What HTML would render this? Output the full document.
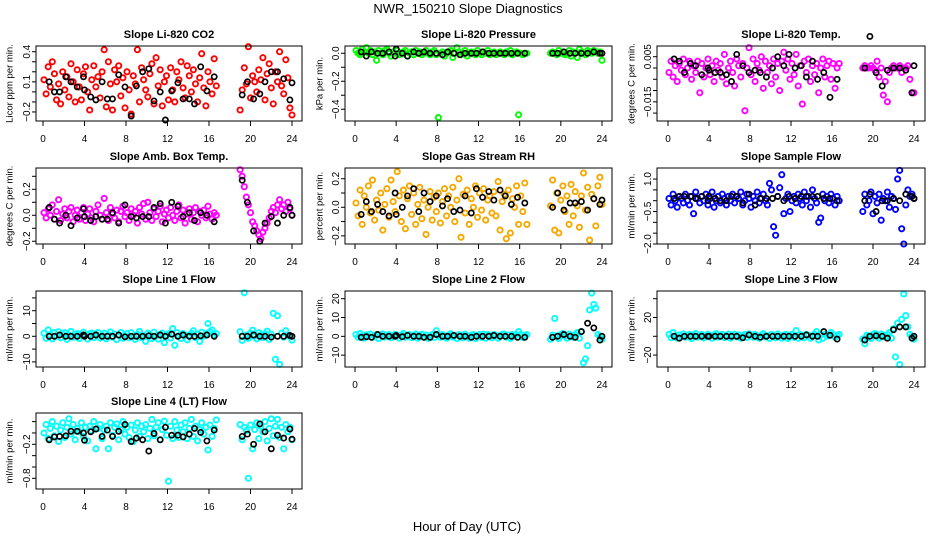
<!DOCTYPE html>
<html><head><meta charset="utf-8">
<style>
html,body{margin:0;padding:0;background:#fff;}
svg{display:block;font-family:"Liberation Sans",Arial,sans-serif;}
.tk{font-size:10px;fill:#000;}
.pt{font-size:11px;font-weight:bold;fill:#000;}
.yl{font-size:9.5px;fill:#000;}
</style></head>
<body>
<svg id="chart" width="936" height="540" viewBox="0 0 936 540">
<text x="468" y="13" text-anchor="middle" font-size="13">NWR_150210  Slope Diagnostics</text>
<text x="467" y="531" text-anchor="middle" font-size="13">Hour of Day (UTC)</text>
</svg>
<script>
// shared hour arrays
const hours = [0.1,0.3,0.5,0.7,0.9,1.1,1.3,1.5,1.7,1.9,2.1,2.3,2.5,2.7,2.9,3.1,3.3,3.5,3.7,3.9,4.1,4.3,4.5,4.7,4.9,5.1,5.3,5.5,5.7,5.9,6.1,6.3,6.5,6.7,6.9,7.1,7.3,7.5,7.7,7.9,8.1,8.3,8.5,8.7,8.9,9.1,9.3,9.5,9.7,9.9,10.1,10.3,10.5,10.7,10.9,11.1,11.3,11.5,11.7,11.9,12.1,12.3,12.5,12.7,12.9,13.1,13.3,13.5,13.7,13.9,14.1,14.3,14.5,14.7,14.9,15.1,15.3,15.5,15.7,15.9,16.1,16.3,16.5,16.7,19.0,19.2,19.4,19.6,19.8,20.0,20.2,20.4,20.6,20.8,21.0,21.2,21.4,21.6,21.8,22.0,22.2,22.4,22.6,22.8,23.0,23.2,23.4,23.6,23.8,24.0];
const blackHours = [0.6,1.1,1.6,2.2,2.7,3.3,3.9,4.0,4.6,5.1,5.7,6.2,6.7,7.3,7.9,8.5,9.0,9.6,10.2,10.7,11.3,11.8,12.4,13.0,13.5,14.1,14.6,15.2,15.8,16.5,19.2,19.7,20.3,20.9,21.4,22.0,22.6,23.2,23.8,24.0];
const xTicks = [0,4,8,12,16,20,24];

// CO2
const co2Vals = [0.12,-0.02,0.25,0.05,0.30,0.18,-0.08,0.08,-0.12,0.20,0.02,0.15,-0.05,0.28,0.10,-0.10,0.22,0.05,-0.08,0.18,0.25,0.00,-0.18,0.12,0.26,0.05,0.15,-0.06,0.20,0.42,-0.15,0.30,0.08,-0.18,0.22,0.10,0.26,-0.04,0.14,-0.16,0.20,0.02,-0.22,0.16,0.08,0.42,-0.10,0.24,0.12,0.02,-0.05,0.18,0.28,-0.12,0.34,0.06,0.22,-0.14,0.10,0.16,-0.08,0.24,0.02,-0.10,0.20,0.12,0.30,0.04,-0.06,0.26,0.16,0.00,0.22,0.08,-0.10,0.14,0.38,0.04,-0.14,0.20,0.10,-0.02,0.33,0.06,-0.18,0.02,0.24,0.08,0.45,-0.06,0.16,0.10,0.00,0.22,0.12,0.34,-0.08,0.18,0.28,0.04,-0.12,0.20,0.10,0.40,0.06,-0.02,0.32,0.14,-0.16,-0.23];
const co2Black = [0.10,0.00,0.00,0.15,0.10,0.05,0.15,0.02,-0.05,-0.08,0.10,-0.07,-0.07,0.17,0.05,-0.24,0.06,0.20,0.23,-0.09,0.00,-0.28,0.01,0.09,-0.07,-0.07,-0.12,0.25,0.01,0.15,-0.03,0.10,-0.07,-0.02,0.10,0.20,0.20,0.13,-0.08,0.09];
// Pressure
const presVals = [0.02,0.00,-0.01,0.03,0.01,0.04,0.00,0.02,-0.01,0.01,-0.05,0.02,0.00,-0.01,0.02,0.03,0.00,-0.02,0.01,0.00,0.02,-0.01,0.00,0.01,0.02,-0.02,0.00,0.01,-0.01,0.02,0.00,0.01,-0.01,0.00,0.02,0.00,-0.01,0.01,0.02,-0.01,-0.46,0.00,0.01,-0.02,0.00,0.01,0.02,-0.03,0.00,0.04,0.01,-0.01,0.00,0.02,-0.02,0.00,0.01,0.00,-0.01,0.02,0.00,-0.01,0.01,0.00,0.02,-0.01,0.00,0.01,-0.01,0.00,0.01,0.00,-0.01,0.01,0.00,0.02,-0.01,0.00,0.01,-0.44,0.00,-0.01,0.00,0.00,0.00,0.01,0.00,-0.01,0.02,0.00,0.01,-0.01,0.00,0.02,-0.02,0.01,0.00,-0.03,0.03,0.01,0.00,-0.01,0.02,0.01,0.00,0.02,0.01,0.00,0.01,-0.05];
const presBlack = [0.01,-0.02,0.01,0.00,0.00,0.01,-0.02,0.03,0.00,-0.02,0.01,0.00,0.01,0.00,0.00,-0.01,0.01,0.00,-0.01,0.00,0.00,0.00,0.01,0.00,0.00,0.00,0.00,0.00,0.00,0.00,0.00,0.00,0.01,0.00,0.00,0.00,0.00,0.01,0.00,0.00];
// Li-820 temperature
const tempVals = [-0.002,0.003,-0.004,0.001,-0.006,0.002,-0.001,0.004,-0.003,0.000,0.003,-0.005,0.001,-0.002,0.003,-0.011,0.002,-0.004,0.000,0.004,-0.003,0.001,-0.006,0.003,-0.001,0.002,-0.004,0.006,-0.007,0.000,0.003,-0.002,-0.008,0.004,0.001,-0.004,0.002,-0.019,0.000,0.009,-0.003,0.004,-0.006,0.002,-0.001,0.005,-0.009,0.003,-0.002,0.001,-0.007,0.004,-0.004,0.002,-0.010,0.003,0.007,-0.001,0.004,-0.005,0.002,-0.003,0.006,-0.008,0.001,-0.016,0.003,-0.002,0.004,-0.006,0.001,-0.003,0.002,-0.011,0.000,0.004,-0.004,0.001,0.003,-0.005,0.002,-0.009,0.000,0.002,0.000,0.001,0.000,0.000,0.001,0.000,-0.001,0.003,-0.004,0.000,-0.012,-0.006,-0.015,-0.002,0.000,0.001,0.000,0.000,0.001,-0.002,0.000,0.000,0.001,-0.005,-0.011,-0.011];
const tempBlack = [0.004,0.003,-0.002,0.002,0.001,-0.003,0.000,-0.001,-0.002,-0.002,-0.003,-0.006,0.006,0.001,-0.002,-0.001,-0.002,-0.004,0.000,0.005,0.001,0.006,0.000,0.001,-0.004,0.003,-0.005,-0.002,-0.013,-0.005,0.000,0.014,-0.002,-0.008,-0.001,0.000,0.000,-0.001,-0.011,0.001];
// Amb box temperature
const ambVals = [0.02,-0.02,0.05,0.00,0.08,-0.03,0.03,0.12,-0.04,0.01,0.05,-0.02,0.03,0.06,-0.05,0.00,0.04,-0.03,0.02,0.06,-0.04,0.01,0.05,-0.02,-0.05,0.03,0.08,0.00,-0.03,0.13,0.02,-0.04,0.06,0.01,-0.02,0.04,-0.05,0.03,0.07,-0.01,0.02,-0.04,0.05,0.00,0.03,-0.06,0.06,0.01,0.09,-0.03,0.10,0.02,-0.04,0.05,-0.01,0.03,0.07,-0.05,0.01,0.04,-0.02,0.06,0.00,-0.04,0.03,0.08,-0.02,0.04,-0.06,0.01,0.05,-0.03,0.02,0.06,-0.05,0.03,0.00,0.04,-0.02,0.07,0.01,-0.03,0.02,0.00,0.35,0.30,0.22,0.14,0.08,0.02,-0.05,-0.08,-0.12,-0.15,-0.18,-0.13,-0.10,-0.06,-0.02,0.03,0.06,0.02,0.08,0.12,0.05,0.08,0.03,0.10,0.05,0.00];
const ambBlack = [0.06,-0.03,-0.06,0.00,-0.08,-0.02,0.05,-0.01,-0.04,-0.01,-0.03,-0.03,0.02,-0.06,0.08,-0.01,-0.02,-0.01,-0.01,0.06,0.09,-0.06,0.10,0.07,-0.01,0.02,-0.04,0.02,0.00,-0.05,0.27,0.10,-0.12,-0.20,-0.06,-0.01,-0.06,0.00,0.06,0.00];
// Gas stream RH
const rhVals = [0.03,-0.06,0.12,-0.12,0.08,0.00,0.15,-0.04,0.19,-0.09,0.05,-0.02,0.10,-0.16,0.02,0.13,-0.07,0.19,0.04,-0.03,0.25,0.08,-0.10,0.12,-0.15,0.06,0.15,-0.05,0.10,-0.12,0.02,0.14,-0.08,0.05,-0.19,0.00,0.11,-0.09,0.07,-0.03,0.10,-0.11,0.04,0.13,-0.06,0.08,0.00,0.14,-0.10,0.05,0.20,-0.21,0.09,-0.04,0.12,-0.12,0.06,0.00,0.15,-0.07,0.10,-0.02,0.13,-0.09,0.05,0.08,-0.04,0.11,-0.06,0.18,-0.16,0.04,0.09,-0.22,0.12,-0.18,0.06,0.00,0.15,-0.12,0.08,-0.03,0.17,-0.12,0.01,0.19,-0.16,0.10,-0.18,0.05,0.15,-0.03,0.08,-0.12,0.16,-0.06,0.11,0.01,-0.14,0.08,0.24,-0.02,0.14,-0.23,0.09,0.06,-0.13,0.15,0.21,0.02];
const rhBlack = [-0.05,0.04,-0.03,0.02,-0.03,-0.06,0.10,-0.05,0.00,0.08,0.13,-0.03,0.10,0.04,0.08,0.01,0.06,-0.03,-0.02,0.08,-0.04,0.13,0.07,0.11,0.05,0.12,0.08,0.02,0.07,0.03,0.00,0.10,-0.02,0.03,0.03,0.04,-0.02,0.06,0.02,0.05];
// Sample flow
const sampVals = [0.1,-0.2,0.3,0.0,-0.3,0.2,0.1,-0.1,0.3,0.0,-0.2,0.2,-0.6,0.4,0.1,-0.1,0.2,0.0,0.3,-0.2,0.1,0.4,-0.3,0.0,0.2,-0.1,0.3,0.1,-0.2,0.2,0.0,0.3,-0.1,0.2,0.1,0.4,-0.2,0.0,0.3,0.1,-0.3,0.2,0.0,0.4,-0.1,0.1,0.3,0.0,-0.2,0.8,0.5,-1.2,-1.6,0.2,0.6,1.2,-0.6,0.1,0.3,-0.5,0.0,0.2,-0.1,0.3,0.1,-0.2,0.4,0.0,0.2,-0.3,0.5,0.1,-0.1,-1.0,-0.8,0.3,0.0,0.2,-0.1,0.3,0.1,-0.2,0.2,0.0,-0.5,0.3,-0.2,0.0,0.4,-0.6,0.2,-0.1,0.3,-0.9,0.1,0.0,0.4,-0.3,0.2,0.1,-0.4,1.0,1.4,-1.3,-2.0,-0.2,0.5,0.2,0.3,0.1];
const sampBlack = [0.1,0.2,0.2,0.2,0.1,0.2,0.0,0.2,0.1,0.0,0.0,0.2,0.2,-0.1,0.3,-0.2,0.1,0.1,0.1,0.2,0.0,0.2,0.1,0.2,0.2,0.2,0.2,0.1,0.1,0.0,0.0,0.3,-0.5,0.0,0.0,0.1,0.0,0.3,0.2,0.1];
// Line 1 flow
const l1Vals = [1.2,-0.8,2.5,0.3,-1.0,1.5,0.0,1.8,-0.6,0.9,1.4,-1.2,0.5,1.9,-0.4,0.8,1.1,-0.9,0.2,1.6,0.4,-1.1,1.0,1.3,-0.5,0.7,1.5,-0.7,0.3,1.2,-1.0,0.6,1.7,-0.3,0.9,-1.3,0.4,1.5,-0.8,0.2,1.1,-0.6,1.4,0.0,-1.2,0.8,1.9,-0.5,0.3,-2.0,1.2,0.5,-0.9,1.6,0.1,-1.1,0.7,1.3,-2.5,0.4,1.0,-0.7,3.0,-3.5,1.5,0.2,-0.9,1.1,0.6,-1.4,0.3,1.2,2.2,-0.5,0.8,-2.0,1.6,0.0,1.0,5.0,1.8,2.5,0.4,1.0,1.8,-1.6,17.0,0.5,-0.8,1.2,2.4,0.0,-1.0,1.4,0.6,-0.5,1.0,2.0,-1.2,0.8,9.0,-9.0,8.0,-11.0,1.2,-0.4,2.2,0.6,0.0,-1.5];
const l1Black = [0.0,0.0,0.5,0.0,0.0,0.0,0.5,0.0,0.0,0.5,0.0,0.0,0.0,0.5,-0.2,0.0,0.0,0.0,0.2,0.0,0.5,0.0,0.8,0.0,0.5,0.0,0.0,0.2,0.5,0.0,0.0,0.0,0.5,0.0,0.0,-0.3,0.0,0.0,0.3,0.0];
// Line 2 flow
const l2Vals = [1.0,-0.5,1.5,0.2,-1.0,0.8,0.0,1.2,-0.6,0.4,1.0,-1.2,0.5,1.3,-0.4,0.6,1.0,-0.8,0.2,1.1,0.3,-1.0,0.7,1.5,-0.5,0.6,1.0,-0.7,0.3,1.2,-1.0,0.4,1.1,-0.3,0.7,-1.1,0.4,1.0,-0.6,3.0,0.8,-0.5,1.0,0.0,-1.0,0.7,1.4,-0.4,0.3,-1.2,1.0,0.4,-0.8,1.2,0.1,-1.0,0.6,1.0,-1.2,0.4,1.0,-0.6,1.2,-1.0,1.0,0.2,-0.8,1.0,0.5,-1.0,0.3,1.1,1.2,-0.5,0.7,-1.1,1.0,0.0,0.8,2.5,1.0,-0.6,0.4,1.0,-1.5,0.6,9.5,0.2,-1.2,1.0,1.5,0.0,-1.0,1.2,0.5,-0.5,1.0,2.0,-1.0,2.5,-14.0,-12.0,-5.0,14.0,23.0,17.0,15.0,1.0,0.0,-1.5];
const l2Black = [-0.5,-0.2,-0.5,1.0,0.0,0.0,0.0,0.5,-0.2,0.5,0.0,0.0,-0.5,-0.5,1.0,0.0,0.0,0.5,0.0,0.0,-0.5,0.0,0.0,0.0,0.5,0.0,0.0,0.0,-0.5,-0.5,-0.5,0.0,1.0,0.0,-0.5,2.5,7.0,4.5,-2.0,0.0];
// Line 3 flow
const l3Vals = [2.0,-1.5,4.0,0.5,-2.0,1.5,0.0,2.5,-1.0,1.0,2.0,-2.5,1.0,3.0,-1.0,1.2,2.0,-1.8,0.4,2.2,0.5,-2.0,1.5,3.0,-1.0,1.2,2.0,-1.4,0.6,2.4,-2.0,0.8,2.2,-0.6,1.4,-2.2,0.8,2.0,-1.2,2.5,1.6,-1.0,2.0,0.0,-2.0,1.4,2.8,-0.8,0.6,-2.4,2.0,0.8,-1.6,2.4,0.2,-2.0,1.2,2.0,-2.4,0.8,2.0,-1.2,6.0,-2.0,2.0,0.4,-1.6,2.0,1.0,-2.0,0.6,2.2,5.0,-4.0,1.4,-2.2,2.0,0.0,1.6,4.0,2.0,-1.2,0.8,2.0,-3.0,-8.0,1.2,0.4,-2.4,2.0,3.0,0.0,-2.0,2.4,1.0,-1.0,2.0,4.0,-2.0,8.0,-22.0,14.0,-30.0,18.0,45.0,22.0,10.0,2.0,0.0,-3.0];
const l3Black = [0.0,-2.0,0.0,0.0,0.0,0.0,0.0,0.0,0.0,0.0,0.0,0.0,0.0,-1.5,1.5,0.0,-1.0,0.0,0.0,0.0,0.0,0.0,0.0,0.0,1.5,0.0,0.0,5.0,1.0,-3.0,-4.0,0.0,0.5,0.0,-2.0,7.0,10.0,10.0,-2.0,0.0];
// Line 4 (LT) flow
const l4Vals = [0.00,0.15,-0.10,0.08,0.20,-0.05,0.12,-0.15,0.05,0.18,-0.08,0.10,0.25,-0.02,0.15,-0.12,0.08,0.02,0.18,-0.06,0.10,-0.14,0.12,0.04,0.20,-0.28,0.08,0.15,-0.10,0.05,0.12,-0.28,0.18,-0.04,0.10,0.16,-0.12,0.06,0.20,-0.02,0.10,-0.08,0.14,-0.15,0.05,0.18,-0.06,0.12,0.02,0.15,-0.10,0.08,0.24,-0.05,0.10,0.18,-0.12,0.06,0.21,-0.04,-0.85,0.12,-0.10,0.20,0.05,-0.08,0.14,0.02,0.18,-0.10,0.08,0.24,-0.06,0.12,-0.14,0.06,0.18,-0.02,0.10,-0.30,0.14,-0.06,0.08,0.23,0.15,-0.12,0.10,0.04,-0.80,0.14,-0.28,0.06,0.18,-0.10,0.12,0.02,0.20,-0.14,0.08,0.25,-0.05,0.12,0.24,-0.08,0.10,-0.28,0.15,0.02,0.10,-0.12];
const l4Black = [-0.12,-0.07,-0.06,-0.05,0.03,0.03,0.00,-0.13,0.02,0.07,-0.06,0.05,-0.06,0.03,0.15,-0.15,-0.09,-0.12,-0.32,-0.01,-0.12,0.10,-0.04,-0.04,-0.07,-0.02,0.08,0.01,-0.14,0.05,-0.06,-0.02,-0.20,0.16,0.02,-0.28,-0.04,-0.09,0.07,-0.11];

const panels = [
 {name:'co2',title:'Slope Li-820 CO2',ylab:'Licor ppm per min.',bx:36,by:46,bw:266,bh:75,x0:43,x24:292,lo:-0.29,hi:0.457,ticks:[0.4,0.3,0.2,0.1,0,-0.1,-0.2],labels:{'0.4':'0.4','0.1':'0.1','-0.2':'-0.2'},lx:9,color:'#ff0000',vals:co2Vals,blk:co2Black},
 {name:'pressure',title:'Slope Li-820 Pressure',ylab:'kPa per min.',bx:345,by:46,bw:267,bh:75,x0:355,x24:602,lo:-0.484,hi:0.052,ticks:[0,-0.1,-0.2,-0.3,-0.4],labels:{'0':'0.0','-0.2':'-0.2','-0.4':'-0.4'},lx:319,color:'#00ff00',vals:presVals,blk:presBlack},
 {name:'licor-temp',title:'Slope Li-820 Temp.',ylab:'degrees C per min.',bx:657,by:46,bw:268,bh:75,x0:668,x24:914,lo:-0.0235,hi:0.00974,ticks:[0.005,0,-0.005,-0.01,-0.015,-0.02],labels:{'0.005':'0.005','-0.015':'-0.015'},lx:631,color:'#ff00ff',vals:tempVals,blk:tempBlack},
 {name:'amb-box-temp',title:'Slope Amb. Box Temp.',ylab:'degrees C per min.',bx:36,by:168,bw:266,bh:76,x0:43,x24:292,lo:-0.221,hi:0.364,ticks:[0.3,0.2,0.1,0,-0.1,-0.2],labels:{'0.2':'0.2','0':'0.0','-0.2':'-0.2'},lx:9,color:'#ff00ff',vals:ambVals,blk:ambBlack},
 {name:'gas-stream-rh',title:'Slope Gas Stream RH',ylab:'percent per min.',bx:345,by:168,bw:267,bh:76,x0:355,x24:602,lo:-0.257,hi:0.275,ticks:[0.2,0.1,0,-0.1,-0.2],labels:{'0.2':'0.2','0':'0.0','-0.2':'-0.2'},lx:319,color:'#f7a800',vals:rhVals,blk:rhBlack},
 {name:'sample-flow',title:'Slope Sample Flow',ylab:'ml/min per min.',bx:657,by:168,bw:268,bh:76,x0:668,x24:914,lo:-2.0,hi:1.51,ticks:[1,0.5,0,-0.5,-1,-1.5,-2],labels:{'1':'1.0','-0.5':'-0.5','-2':'-2.0'},lx:631,color:'#0000ff',vals:sampVals,blk:sampBlack},
 {name:'line1-flow',title:'Slope Line 1 Flow',ylab:'ml/min per min.',bx:36,by:291,bw:266,bh:76,x0:43,x24:292,lo:-12.0,hi:17.7,ticks:[15,10,5,0,-5,-10],labels:{'10':'10','0':'0','-10':'-10'},lx:9,color:'#00ffff',vals:l1Vals,blk:l1Black},
 {name:'line2-flow',title:'Slope Line 2 Flow',ylab:'ml/min per min.',bx:345,by:291,bw:267,bh:76,x0:355,x24:602,lo:-16.3,hi:24.1,ticks:[20,10,0,-10],labels:{'20':'20','10':'10','0':'0','-10':'-10'},lx:319,color:'#00ffff',vals:l2Vals,blk:l2Black},
 {name:'line3-flow',title:'Slope Line 3 Flow',ylab:'ml/min per min.',bx:657,by:291,bw:268,bh:76,x0:668,x24:914,lo:-32.7,hi:48.2,ticks:[40,20,0,-20],labels:{'20':'20','-20':'-20'},lx:631,color:'#00ffff',vals:l3Vals,blk:l3Black},
 {name:'line4-flow',title:'Slope Line 4 (LT) Flow',ylab:'ml/min per min.',bx:36,by:413,bw:266,bh:76,x0:43,x24:292,lo:-0.988,hi:0.352,ticks:[0.2,0,-0.2,-0.4,-0.6,-0.8],labels:{'-0.2':'-0.2','-0.8':'-0.8'},lx:9,color:'#00ffff',vals:l4Vals,blk:l4Black}
];

const NS='http://www.w3.org/2000/svg';
const svg=document.getElementById('chart');
function mk(tag,attrs,parent){const e=document.createElementNS(NS,tag);for(const k in attrs)e.setAttribute(k,attrs[k]);(parent||svg).appendChild(e);return e;}
function fmt(s){return s.replace('-','\u2212');}

panels.forEach(p=>{
  const g=mk('g',{});
  
  
  const xs=h=>p.x0+(h/24)*(p.x24-p.x0);
  const ys=v=>p.by+(p.hi-v)/(p.hi-p.lo)*p.bh;
  const t=mk('text',{x:p.bx+p.bw/2,y:p.by-8,'text-anchor':'middle',class:'pt'},g);
  t.textContent=p.title;
  
  
  const pts=mk('g',{fill:'none',stroke:p.color,'stroke-width':1.9},g);
  
  
  const n=Math.min(hours.length,p.vals.length);
  for(let i=0;i<n;i++){
    const c=mk('circle',{cx:xs(hours[i]).toFixed(1),cy:ys(p.vals[i]).toFixed(1),r:2.6},pts);
    
    
  }
  const bk=mk('g',{fill:'none',stroke:'#000','stroke-width':1.7},g);
  
  
  const m=Math.min(blackHours.length,p.blk.length);
  for(let i=0;i<m;i++){
    const c=mk('circle',{cx:xs(blackHours[i]).toFixed(1),cy:ys(p.blk[i]).toFixed(1),r:2.6},bk);
    
    
  }
  const frame=mk('rect',{x:p.bx,y:p.by,width:p.bw,height:p.bh,fill:'none',stroke:'#000','stroke-width':1},g);
  
  
  // x axis
  const xa=mk('g',{},g);
  
  
  const yb=p.by+p.bh;
  xTicks.forEach(h=>{
    mk('line',{x1:xs(h),x2:xs(h),y1:yb,y2:yb+5,stroke:'#000'},xa);
    const tt=mk('text',{x:xs(h),y:yb+21,'text-anchor':'middle',class:'tk'},xa);
    tt.textContent=String(h);
  });
  // y axis
  const ya=mk('g',{},g);
  
  
  const ax=p.bx;
  p.ticks.forEach(v=>{
    const y=ys(v);
    mk('line',{x1:ax-4,x2:ax,y1:y,y2:y,stroke:'#000'},ya);
    const key=String(v);
    if(p.labels[key]!==undefined){
      const bx=ax-6;
      const tl=mk('text',{x:bx,y:y,transform:`rotate(-90 ${bx} ${y})`,'text-anchor':'middle',class:'tk'},ya);
      tl.textContent=fmt(p.labels[key]);
    }
  });
  const cy=p.by+p.bh/2;
  const yl=mk('text',{x:p.lx,y:cy,transform:`rotate(-90 ${p.lx} ${cy})`,'text-anchor':'middle',class:'yl',dy:'3.5'},g);
  yl.textContent=p.ylab;
  
  
});
</script>
</body></html>
